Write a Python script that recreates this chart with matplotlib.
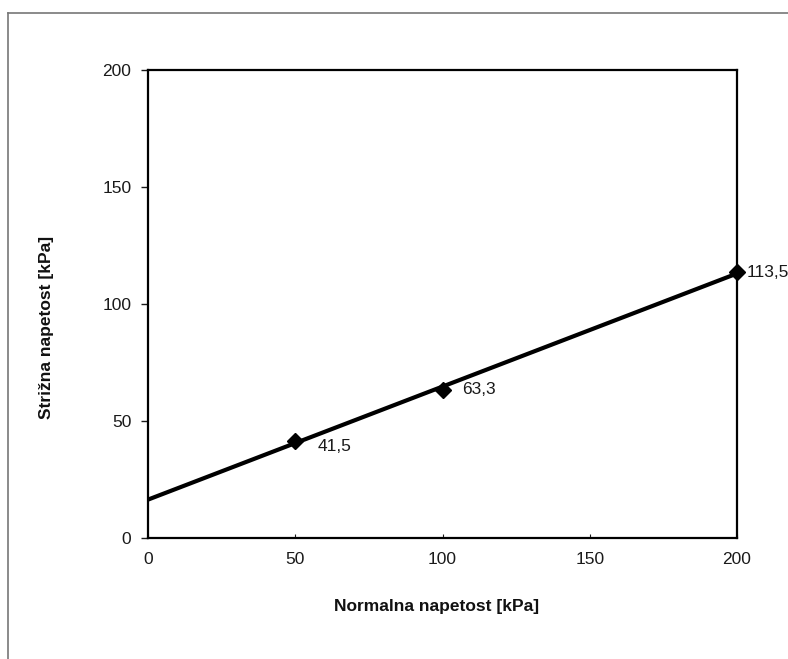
import numpy as np
import matplotlib
matplotlib.use("Agg")
import matplotlib.pyplot as plt
from matplotlib.lines import Line2D

# data
normal_stress = [50, 100, 200]
shear_stress = [41.5, 63.3, 113.5]
point_labels = ["41,5", "63,3", "113,5"]
x_ticks = [0, 50, 100, 150, 200]
y_ticks = [0, 50, 100, 150, 200]

plt.rcParams['font.family'] = ['Liberation Sans', 'DejaVu Sans']

fig = plt.figure(figsize=(7.88, 6.59), dpi=100)
ax = fig.add_axes([148/788, 1 - 538/659, (737 - 148)/788, (538 - 70)/659])

# linear trendline
slope, intercept = np.polyfit(normal_stress, shear_stress, 1)
xl = np.array([0, 200])
ax.plot(xl, slope * xl + intercept, color='black', lw=3.0, solid_capstyle='butt', zorder=3, clip_on=False)
ax.plot(normal_stress, shear_stress, linestyle='none', marker='D', color='black',
        markersize=8, zorder=4, clip_on=False)

offsets = [(16, -4), (14, 0), (7, 0)]
for x, y, lab, off in zip(normal_stress, shear_stress, point_labels, offsets):
    ax.annotate(lab, (x, y), xytext=off, textcoords='offset points',
                ha='left', va='center', fontsize=12.5, color='#1a1a1a', annotation_clip=False)

ax.set_xlim(0, 200)
ax.set_ylim(0, 200)
ax.set_xticks(x_ticks)
ax.set_yticks(y_ticks)
ax.tick_params(axis='y', direction='out', length=5, width=1, labelsize=12.5, pad=7, colors='#1a1a1a')
ax.tick_params(axis='x', direction='in', length=3, width=0.8, labelsize=12.5, pad=10, colors='#1a1a1a')
for s in ax.spines.values():
    s.set_linewidth(1.6)
    s.set_color('black')

fig.text(437/788, 1 - 606/659, 'Normalna napetost [kPa]', ha='center', va='center',
         fontsize=12.5, fontweight='bold', color='#111111')
fig.text(47/788, 1 - 327/659, 'Strižna napetost [kPa]', ha='center', va='center',
         rotation=90, fontsize=12.5, fontweight='bold', color='#111111')

# outer chart frame (left and top edges visible)
fig.add_artist(Line2D([8/788, 8/788], [0, 1 - 13/659], transform=fig.transFigure,
                      color='#777777', lw=1.2))
fig.add_artist(Line2D([8/788, 1], [1 - 13/659, 1 - 13/659], transform=fig.transFigure,
                      color='#777777', lw=1.2))

fig.savefig('out.png', dpi=100)
